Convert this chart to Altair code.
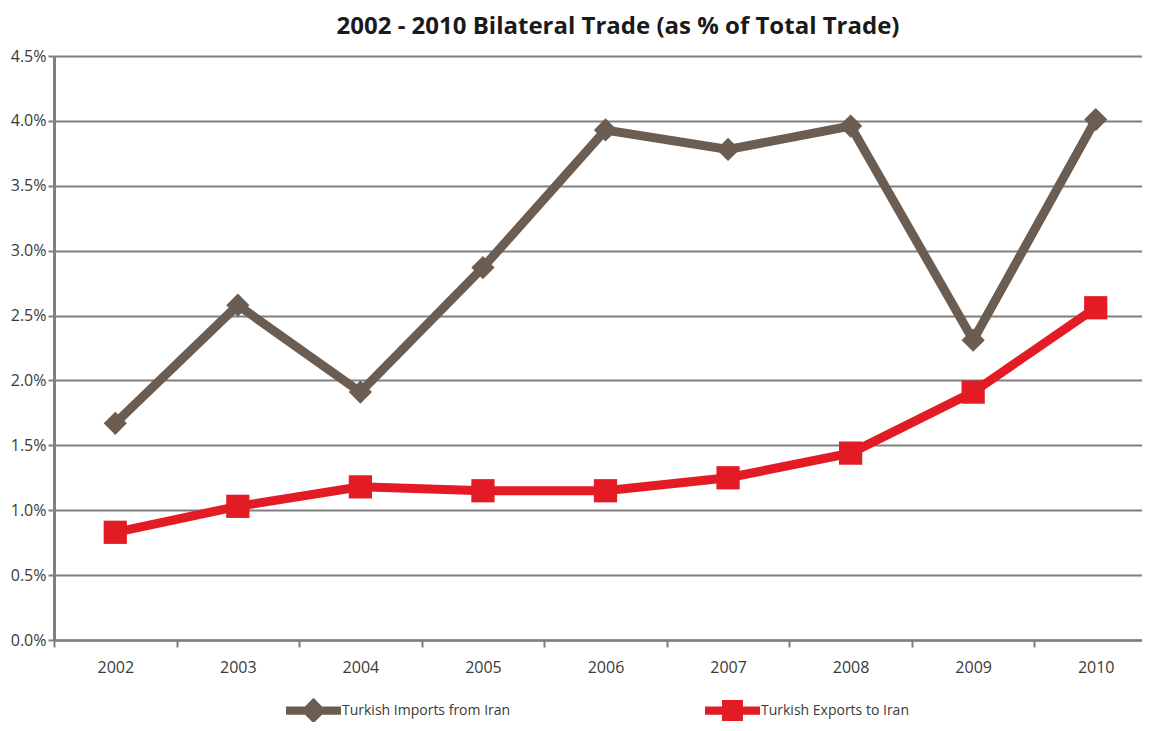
import altair as alt
import pandas as pd

years = ["2002", "2003", "2004", "2005", "2006", "2007", "2008", "2009", "2010"]
imports_iran = [1.67, 2.58, 1.91, 2.87, 3.93, 3.78, 3.96, 2.31, 4.01]
exports_iran = [0.83, 1.03, 1.18, 1.15, 1.15, 1.25, 1.44, 1.91, 2.56]
series_names = ["Turkish Imports from Iran", "Turkish Exports to Iran"]
series_colors = ["#6b5d52", "#e31b24"]
series_shapes = ["diamond", "square"]
y_ticks = [0, 0.005, 0.01, 0.015, 0.02, 0.025, 0.03, 0.035, 0.04, 0.045]

rows = []
for y, v in zip(years, imports_iran):
    rows.append({"year": y, "value": v / 100, "series": series_names[0]})
for y, v in zip(years, exports_iran):
    rows.append({"year": y, "value": v / 100, "series": series_names[1]})
df = pd.DataFrame(rows)

legend_paths = [
    "M-1,-0.15L-0.31,-0.15L0,-0.46L0.31,-0.15L1,-0.15L1,0.15L0.31,0.15L0,0.46L-0.31,0.15L-1,0.15Z",
    "M-1,-0.15L-0.38,-0.15L-0.38,-0.38L0.38,-0.38L0.38,-0.15L1,-0.15L1,0.15L0.38,0.15L0.38,0.38L-0.38,0.38L-0.38,0.15L-1,0.15Z",
]
legend_x = [232, 651]

FONT = "Open Sans"

x_enc = alt.X(
    "year:N",
    bandPosition=0.5,
    scale=alt.Scale(type="band", paddingInner=0, paddingOuter=0, domain=years, range=[0, 1103]),
    axis=alt.Axis(
        title=None, labelAngle=0, tickBand="extent", grid=False,
        domainColor="#7f7f7f", domainWidth=2.5, tickColor="#7f7f7f", tickWidth=2,
        tickSize=7, labelPadding=12, labelFont=FONT, labelFontSize=16, labelColor="#3a3a3a",
    ),
)
y_enc = alt.Y(
    "value:Q",
    scale=alt.Scale(domain=[0, 0.045], nice=False),
    axis=alt.Axis(
        title=None, values=y_ticks, format=".1%", grid=True, gridColor="#7f7f7f", gridWidth=2,
        domainColor="#7f7f7f", domainWidth=3, tickColor="#7f7f7f", tickWidth=2, tickSize=6,
        labelPadding=2, labelFont=FONT, labelFontSize=16, labelColor="#3a3a3a",
    ),
)

color_scale = alt.Scale(domain=series_names, range=series_colors)

base = alt.Chart(df)

lines = base.mark_line(strokeWidth=9, strokeJoin="miter").encode(
    x=x_enc, y=y_enc,
    color=alt.Color("series:N", scale=color_scale, legend=None),
    detail="series:N",
)

points = base.mark_point(filled=True, size=540, opacity=1).encode(
    x=x_enc, y=y_enc,
    color=alt.Color("series:N", scale=color_scale, legend=None),
    shape=alt.Shape("series:N", scale=alt.Scale(domain=series_names, range=series_shapes), legend=None),
)

legend_layers = []
for name, col, path, lx in zip(series_names, series_colors, legend_paths, legend_x):
    legend_layers.append(
        base.transform_filter("false").mark_point(filled=True, color=col, opacity=1).encode(
            x=x_enc, y=y_enc,
            shape=alt.Shape(
                "series:N",
                scale=alt.Scale(domain=[name], range=[path]),
                legend=alt.Legend(
                    title=None, orient="none", direction="horizontal", legendX=lx, legendY=627,
                    symbolSize=3025, symbolOpacity=1, labelFont=FONT, labelFontSize=14,
                    labelColor="#3a3a3a", labelOffset=1, symbolStrokeWidth=0, labelLimit=400,
                ),
            ),
        )
    )

chart = (
    alt.layer(lines, points, *legend_layers)
    .resolve_scale(shape="independent")
    .properties(
        width=1088,
        height=584,
        autosize=alt.AutoSizeParams(type="none"),
        padding={"left": 46, "top": 48, "right": 0, "bottom": 82},
        title=alt.TitleParams(
            "2002 - 2010 Bilateral Trade (as % of Total Trade)",
            font=FONT, fontSize=24, fontWeight="bold", color="#1a1a1a",
            anchor="middle", dx=20, offset=9,
        ),
    )
    .configure_view(fill="#d9d9d9", stroke="transparent")
    .configure(background="white")
)

chart.save("out.html", embed_options={"renderer": "svg", "actions": False})
